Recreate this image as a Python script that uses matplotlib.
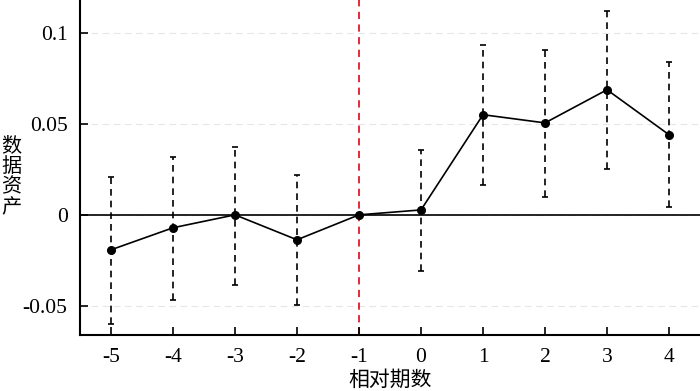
import matplotlib.pyplot as plt
import numpy as np

periods = [-5, -4, -3, -2, -1, 0, 1, 2, 3, 4]
coef = [-0.0192, -0.0071, 0.0, -0.0137, 0.0, 0.0027, 0.055, 0.0505, 0.0687, 0.044]
ci_low = [-0.0599, -0.0467, -0.0385, -0.0495, 0.0, -0.0308, 0.0165, 0.0099, 0.0253, 0.0044]
ci_high = [0.0209, 0.0319, 0.0374, 0.022, 0.0, 0.0357, 0.0934, 0.0907, 0.112, 0.084]
yticks = [-0.05, 0, 0.05, 0.1]
ytick_labels = ['-0.05', '0', '0.05', '0.1']

plt.rcParams['font.family'] = ['Liberation Serif', 'Noto Sans CJK SC']

fig = plt.figure(figsize=(7, 3.91), dpi=100)
ax = fig.add_axes([0.1143, 0.1432, 0.8857, 0.8568])

x = np.array(periods)
y = np.array(coef)
err = [y - np.array(ci_low), np.array(ci_high) - y]

for yv in yticks:
    ax.axhline(yv, color='#e6e6e6', lw=0.8, ls=(0, (6, 4)), zorder=0)
ax.axhline(0, color='black', lw=1.2, zorder=1)
ax.axvline(-1, color='#e0192b', lw=1.3, ls=(0, (4, 3)), zorder=1)

eb = ax.errorbar(x, y, yerr=err, fmt='o-', color='black', ms=5.5, lw=1.2,
                 elinewidth=1.2, capsize=2.5, capthick=1.2, zorder=3)
eb[2][0].set_linestyle((0, (4, 3)))

ax.set_xlim(-5.5, 4.5)
ax.set_ylim(-0.066, 0.118)
ax.set_xticks(periods)
ax.set_xticklabels([str(p) for p in periods])
ax.set_yticks(yticks)
ax.set_yticklabels(ytick_labels)
ax.tick_params(direction='in', length=6, width=1.2, labelsize=15.5, pad=9)
for s in ['top', 'right']:
    ax.spines[s].set_visible(False)
for s in ['left', 'bottom']:
    ax.spines[s].set_linewidth(1.5)

ax.set_xlabel('相对期数', fontsize=15, family=['Noto Sans CJK SC'], labelpad=2)
fig.text(0.016, 0.548, '数\n据\n资\n产', fontsize=14.5, family=['Noto Sans CJK SC'],
         ha='center', va='center', linespacing=1.0)

fig.savefig('out.png', dpi=100)
